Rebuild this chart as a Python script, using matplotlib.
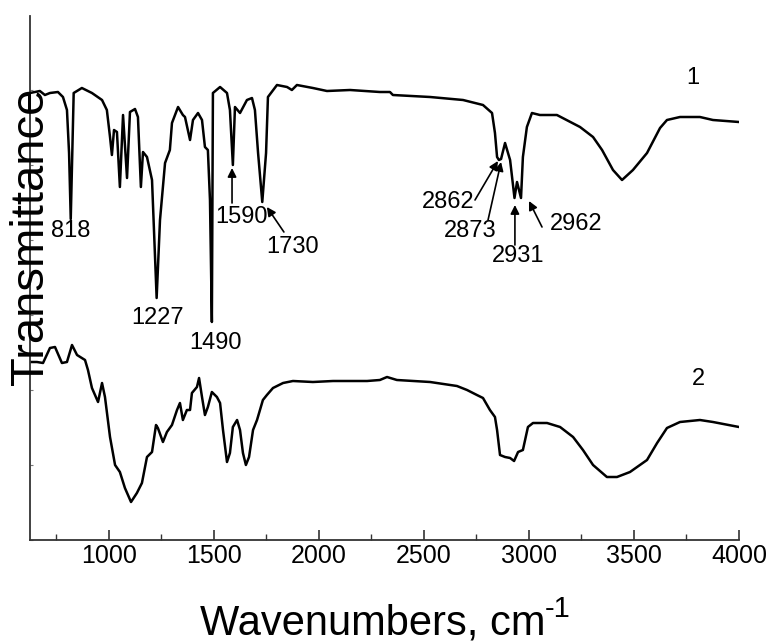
import matplotlib
matplotlib.use("Agg")
import matplotlib.pyplot as plt
from matplotlib.ticker import MultipleLocator

plt.rcParams['font.family'] = ['Liberation Sans', 'DejaVu Sans']

# spectrum 1 (upper curve), wavenumber / transmittance (arb. units)
wn1 = [624, 671, 695, 719, 757, 781, 800, 810, 818, 832, 871, 919, 967, 990,
       1005, 1014, 1024, 1038, 1052, 1067, 1086, 1100, 1124, 1138, 1152, 1162,
       1181, 1205, 1227, 1243, 1267, 1290, 1300, 1329, 1352, 1362, 1386, 1400,
       1424, 1443, 1457, 1471, 1481, 1490, 1495, 1529, 1562, 1576, 1590, 1600,
       1624, 1657, 1681, 1695, 1710, 1730, 1748, 1757, 1800, 1848, 1871, 1895,
       1971, 2038, 2148, 2290, 2338, 2352, 2529, 2686, 2781, 2824, 2838, 2848,
       2857, 2867, 2886, 2910, 2931, 2943, 2962, 2971, 2990, 3014, 3052, 3133,
       3243, 3305, 3348, 3400, 3443, 3495, 3562, 3624, 3657, 3719, 3814, 3876,
       4000]
t1 = [89.4, 89.8, 89.0, 89.4, 89.6, 88.6, 86.0, 77.4, 64.2, 89.4, 90.4, 89.4,
      88.0, 86.0, 80.6, 77.0, 82.0, 81.6, 70.6, 85.0, 72.4, 85.6, 86.2, 84.6,
      70.6, 77.6, 76.6, 72.0, 48.4, 64.0, 75.4, 78.0, 83.4, 86.6, 85.0, 84.6,
      80.0, 84.0, 85.4, 84.0, 78.6, 78.0, 68.0, 43.6, 89.4, 90.6, 89.4, 86.0,
      75.0, 86.6, 85.4, 88.0, 88.4, 86.0, 77.4, 67.6, 77.4, 88.6, 91.0, 90.6,
      90.0, 91.0, 90.4, 89.8, 90.0, 89.6, 89.6, 89.0, 88.6, 88.0, 87.0, 85.4,
      81.4, 76.6, 76.0, 76.2, 79.4, 76.0, 68.4, 71.6, 68.4, 76.6, 82.6, 85.4,
      85.0, 85.0, 82.6, 80.6, 78.0, 74.0, 72.0, 74.0, 77.4, 82.4, 84.0, 84.6,
      84.6, 84.0, 83.6]

# spectrum 2 (lower curve)
wn2 = [624, 657, 686, 719, 743, 776, 800, 824, 848, 886, 900, 919, 948, 967,
       981, 1005, 1029, 1052, 1076, 1105, 1133, 1157, 1181, 1205, 1224, 1233,
       1257, 1276, 1300, 1324, 1338, 1352, 1371, 1386, 1395, 1419, 1429, 1443,
       1457, 1471, 1490, 1514, 1529, 1543, 1562, 1576, 1590, 1610, 1624, 1638,
       1652, 1667, 1686, 1705, 1733, 1752, 1781, 1829, 1876, 1971, 2067, 2229,
       2290, 2324, 2371, 2529, 2657, 2705, 2752, 2781, 2814, 2838, 2848, 2862,
       2886, 2910, 2929, 2948, 2971, 2995, 3019, 3086, 3148, 3210, 3257, 3305,
       3371, 3419, 3481, 3562, 3610, 3657, 3719, 3814, 3876, 4000]
t2 = [35.6, 35.6, 35.4, 38.4, 38.6, 35.4, 35.6, 39.0, 37.0, 36.0, 34.0, 30.4,
      27.6, 31.4, 28.6, 20.6, 15.0, 13.6, 10.4, 7.6, 9.4, 11.4, 16.6, 17.6,
      23.0, 22.4, 19.6, 21.6, 23.0, 26.0, 27.4, 24.0, 26.0, 26.0, 29.4, 30.6,
      32.4, 28.6, 25.0, 26.6, 29.6, 28.6, 27.4, 22.0, 15.6, 17.4, 22.6, 24.0,
      22.0, 17.4, 15.0, 16.6, 22.0, 24.0, 28.0, 29.0, 30.4, 31.4, 31.8, 31.6,
      31.8, 31.8, 32.0, 32.6, 32.0, 31.6, 30.8, 30.0, 29.0, 28.4, 26.0, 24.6,
      22.0, 17.0, 16.6, 16.4, 15.8, 17.6, 18.0, 22.6, 23.4, 23.4, 22.6, 20.6,
      18.0, 15.0, 12.6, 12.6, 13.6, 16.0, 19.4, 22.4, 23.6, 24.0, 23.6, 22.6]

# peak labels of spectrum 1: (text, text x, text y)
plain_labels = [('818', 819, 61.8), ('1227', 1233, 44.4), ('1490', 1505, 39.4)]
# arrowed labels: (text, text x, text y, arrow tail, arrow tip)
arrow_labels = [
    ('1590', 1629, 64.6, (1586, 67.4), (1586, 74.4)),
    ('1730', 1876, 58.6, (1833, 61.6), (1752, 66.6)),
    ('2862', 2614, 67.6, (2743, 68.0), (2852, 75.8)),
    ('2873', 2719, 61.8, (2805, 64.0), (2867, 75.6)),
    ('2931', 2948, 56.8, (2933, 59.0), (2933, 67.0)),
    ('2962', 3224, 63.2, (3062, 62.6), (3000, 67.8)),
]
curve_names = [('1', 3781, 92.4), ('2', 3805, 32.2)]

fig = plt.figure(figsize=(7.7, 6.43), dpi=100)
ax = fig.add_axes([30 / 770, 1 - 540 / 643, 709 / 770, 524 / 643])

ax.plot(wn1, t1, color='black', lw=1.8)
ax.plot(wn2, t2, color='black', lw=1.8)

for txt, x, y in plain_labels:
    ax.text(x, y, txt, fontsize=17, ha='center', va='center')
for txt, x, y, tail, tip in arrow_labels:
    ax.text(x, y, txt, fontsize=17, ha='center', va='center')
    ax.annotate('', xy=tip, xytext=tail,
                arrowprops=dict(arrowstyle='-|>', color='black', lw=1.2,
                                mutation_scale=13, shrinkA=0, shrinkB=0))
for txt, x, y in curve_names:
    ax.text(x, y, txt, fontsize=17, ha='center', va='center')

ax.set_xlim(624, 4000)
ax.set_ylim(0, 104.8)
ax.xaxis.set_major_locator(MultipleLocator(500))
ax.xaxis.set_minor_locator(MultipleLocator(250))
ax.yaxis.set_major_locator(MultipleLocator(15))
ax.set_yticklabels([])
ax.tick_params(axis='x', which='major', direction='in', length=7, width=1.2,
               labelsize=18, pad=3, color='#333333')
ax.tick_params(axis='x', which='minor', direction='in', length=4, width=1.0,
               color='#333333')
ax.tick_params(axis='y', which='major', direction='in', length=2.5, width=0.8,
               color='#777777')

for side in ['top', 'right']:
    ax.spines[side].set_visible(False)
for side in ['left', 'bottom']:
    ax.spines[side].set_linewidth(1.3)
    ax.spines[side].set_color('#333333')

# x label with a plain "-1" superscript
fig.text(200 / 770, 1 - 635 / 643, 'Wavenumbers, cm', fontsize=30,
         ha='left', va='baseline')
fig.text(545 / 770, 1 - 617 / 643, '-1', fontsize=21,
         ha='left', va='baseline')
fig.text(31 / 770, 1 - 236 / 643, 'Transmittance', fontsize=34,
         rotation=90, ha='center', va='center')

fig.savefig('out.png', dpi=100)
